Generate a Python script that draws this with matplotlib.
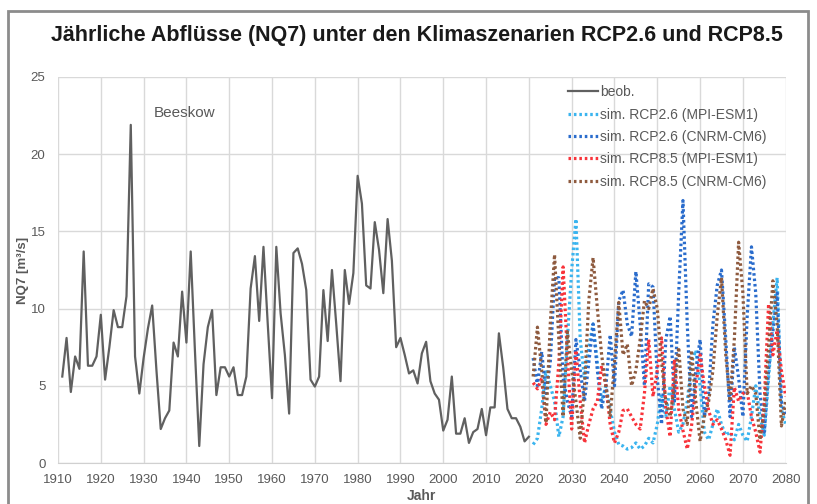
import numpy as np

import matplotlib
matplotlib.use("Agg")

import matplotlib.pyplot as plt
from matplotlib.patches import Rectangle


# observed annual NQ7 values at Beeskow, 1911-2020
obsYears = list(range(1911, 2021))
obsValues = [
	5.6, 8.1, 4.6, 6.9, 6.1, 13.7, 6.3, 6.3, 6.9, 9.6,
	5.4, 7.5, 9.9, 8.8, 8.8, 10.8, 21.9, 6.9, 4.5, 6.8,
	8.7, 10.2, 6.0, 2.2, 2.9, 3.4, 7.8, 6.9, 11.1, 7.8,
	13.7, 7.2, 1.1, 6.4, 8.8, 9.9, 4.4, 6.2, 6.2, 5.6,
	6.2, 4.4, 4.4, 5.6, 11.3, 13.4, 9.2, 14.0, 9.0, 4.2,
	14.0, 9.7, 7.0, 3.2, 13.6, 13.9, 12.9, 11.2, 5.4, 4.95,
	5.6, 11.2, 7.9, 12.5, 9.0, 5.3, 12.5, 10.3, 12.3, 18.6,
	16.8, 11.5, 11.3, 15.6, 13.8, 11.0, 15.8, 13.1, 7.5, 8.1,
	7.0, 5.8, 6.0, 5.15, 7.1, 7.85, 5.3, 4.5, 4.1, 2.1,
	2.8, 5.6, 1.9, 1.9, 2.9, 1.3, 2.0, 2.2, 3.5, 1.8,
	3.6, 3.6, 8.4, 6.2, 3.5, 2.9, 2.9, 2.35, 1.4, 1.7,
]

# simulated values 2021-2080
simYears = list(range(2021, 2081))
rcp26Mpi = [
	1.2, 1.6, 3.5, 6.0, 5.0, 4.0, 1.7, 3.0, 8.0, 12.5,
	15.8, 8.0, 5.5, 7.5, 9.0, 6.5, 4.0, 5.0, 3.5, 2.0,
	1.2, 1.1, 0.9, 1.0, 1.3, 0.9, 1.1, 1.6, 1.3, 2.5,
	4.5, 3.0, 5.0, 3.5, 2.0, 2.5, 4.0, 6.5, 7.3, 5.0,
	2.0, 1.5, 2.5, 3.5, 2.5, 1.8, 2.0, 1.5, 2.5, 1.8,
	1.4, 3.0, 5.0, 3.0, 1.8, 5.5, 9.0, 12.0, 3.5, 2.5,
]
rcp26Cnrm = [
	6.8, 5.0, 7.2, 4.5, 6.5, 12.0, 12.0, 5.5, 4.0, 3.0,
	8.0, 6.0, 4.0, 6.5, 9.0, 6.0, 3.5, 5.0, 8.3, 5.0,
	10.5, 11.2, 9.0, 8.2, 12.4, 9.0, 5.0, 11.6, 11.4, 5.5,
	2.5, 8.0, 9.5, 4.0, 11.0, 17.0, 9.0, 3.0, 6.0, 8.0,
	3.0, 4.5, 9.0, 11.5, 12.5, 8.0, 3.0, 7.5, 5.5, 3.0,
	9.5, 14.0, 11.0, 4.5, 2.0, 6.0, 8.5, 11.0, 4.0, 3.0,
]
rcp85Mpi = [
	5.2, 4.8, 5.5, 2.5, 3.3, 2.8, 6.5, 12.7, 7.0, 2.2,
	7.3, 4.0, 1.3, 2.5, 3.5, 4.0, 6.3, 5.0, 2.5, 1.3,
	2.0, 3.4, 3.5, 3.0, 2.5, 2.2, 4.5, 8.0, 4.3, 6.0,
	8.1, 3.5, 1.7, 6.7, 3.5, 2.1, 0.9, 2.4, 5.0, 7.0,
	5.0, 3.4, 2.5, 2.8, 2.2, 1.5, 0.5, 4.9, 4.0, 4.5,
	4.6, 3.0, 2.0, 0.7, 4.0, 10.3, 7.0, 8.6, 6.0, 4.3,
]
rcp85Cnrm = [
	5.6, 8.8, 6.0, 2.6, 9.0, 13.5, 8.0, 3.0, 8.5, 6.0,
	4.0, 1.6, 5.0, 10.5, 13.3, 10.0, 7.0, 5.0, 3.0, 6.5,
	10.4, 7.0, 7.7, 5.0, 6.0, 8.0, 10.5, 10.0, 11.3, 10.0,
	6.5, 4.0, 3.0, 5.0, 7.5, 3.5, 2.5, 7.3, 4.0, 1.4,
	3.0, 4.0, 6.0, 9.5, 12.0, 7.0, 4.0, 8.0, 14.3, 11.0,
	4.5, 5.0, 4.5, 1.5, 3.5, 7.5, 11.8, 9.0, 2.4, 4.0,
]

simSeries = [
	("sim. RCP2.6 (MPI-ESM1)", rcp26Mpi, "#3ab4ef"),
	("sim. RCP2.6 (CNRM-CM6)", rcp26Cnrm, "#2a6ccc"),
	("sim. RCP8.5 (MPI-ESM1)", rcp85Mpi, "#f8333a"),
	("sim. RCP8.5 (CNRM-CM6)", rcp85Cnrm, "#8e5a3e"),
]

textGrey = "#595959"
plt.rcParams['font.family'] = ['Liberation Sans', 'DejaVu Sans']

fig = plt.figure(figsize=(8.17, 5.04), dpi=100)
ax = fig.add_axes([58 / 817, 1 - 463 / 504, (785.7 - 58) / 817, (463 - 77) / 504])

ax.plot(obsYears, obsValues, color="#606060", lw=1.6, label="beob.", zorder=3)
for name, vals, col in simSeries:
	ax.plot(simYears, vals, color=col, lw=2.3, ls=(0, (0.8, 0.9)), label=name, zorder=3)

ax.set_xlim(1910, 2080)
ax.set_ylim(0, 25)
ax.set_xticks(np.arange(1910, 2081, 10))
ax.set_yticks(np.arange(0, 26, 5))
ax.grid(True, color="#d9d9d9", lw=1.0)
ax.set_axisbelow(True)
for side in ["top", "right", "left"]:
	ax.spines[side].set_visible(False)
ax.spines["bottom"].set_color("#d0d0d0")
ax.tick_params(length=0, colors=textGrey, labelsize=9.5)
ax.tick_params(axis="x", pad=8)
ax.tick_params(axis="y", pad=9)

ax.set_xlabel("Jahr", fontsize=10, fontweight="bold", color=textGrey, labelpad=2)
ax.set_ylabel("NQ7 [m³/s]", fontsize=9.5, fontweight="bold", color=textGrey, labelpad=1)

ax.text(1939.5, 22.65, "Beeskow", fontsize=11, color=textGrey, ha="center", va="center")

leg = ax.legend(loc="upper left", bbox_to_anchor=(0.689, 1.0), frameon=False,
	fontsize=10, handlelength=2.2, handletextpad=0.15, labelspacing=0.6, borderaxespad=0.2)
for t in leg.get_texts():
	t.set_color(textGrey)

fig.text(417 / 817, 1 - 35 / 504, "Jährliche Abflüsse (NQ7) unter den Klimaszenarien RCP2.6 und RCP8.5",
	ha="center", va="center", fontsize=15.5, fontweight="bold", color="#1a1a1a")

# screenshot frame around the chart
fig.patches.append(Rectangle((8 / 817, -0.05), 800 / 817, 1.05 - 11 / 504, transform=fig.transFigure,
	fill=False, edgecolor="#8c8c8c", lw=2))

plt.savefig("out.png", dpi=100)
